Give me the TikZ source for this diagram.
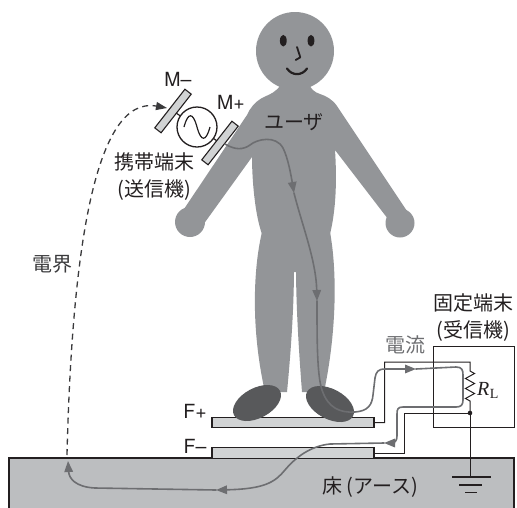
\documentclass[tikz,border=0pt]{standalone}
\usepackage{fontspec}
\setmainfont{TeX Gyre Heros}
\newfontfamily\jp{Noto Sans CJK JP}
\newfontfamily\serifit{Liberation Serif}
\usetikzlibrary{arrows.meta}
\definecolor{bodyc}{HTML}{939598}
\definecolor{footc}{HTML}{58595B}
\definecolor{floorc}{HTML}{BCBEC0}
\definecolor{platec}{HTML}{D1D3D4}
\definecolor{flow}{HTML}{6D6E71}
\definecolor{ink}{HTML}{231F20}
\definecolor{fieldc}{HTML}{3A3A3C}

\begin{document}
\begin{tikzpicture}[x=1pt,y=-1pt,
  mplate/.style={draw=ink, fill=platec, line width=1.1pt, inner sep=0pt,
                 minimum width=49pt, minimum height=8pt, rotate=52},
  fplate/.style={draw=ink, fill=platec, line width=1.2pt, inner sep=0pt,
                 minimum width=162pt, minimum height=10.5pt},
  flowline/.style={draw=flow, line width=1.6pt, line join=round, line cap=round},
  flowtip/.style={-{Triangle[length=11pt,width=8.5pt]}},
  wire/.style={draw=ink, line width=1pt},
  jlabel/.style={font=\jp\fontsize{20}{27}\selectfont, text=ink, inner sep=0pt, align=center},
  llabel/.style={font=\fontsize{19.5}{22}\selectfont, text=ink, inner sep=0pt}]
\useasboundingbox (0,0) rectangle (517,507);

% floor
\filldraw[fill=floorc, draw=ink, line width=1.2pt]
  (9,512) -- (9,458) -- (514,458) -- (514,512);

% electrodes on the floor
\node[fplate] (Fm) at (293,453) {};
\node[fplate] (Fp) at (293,422.5) {};

% the user: legs, torso with arms, hands, head
\fill[bodyc] (262,232) .. controls (253,270) and (251,330) .. (265,392)
  -- (287,392) .. controls (292,340) and (294,300) .. (294,266) -- cycle;
\fill[bodyc] (296,266) .. controls (296,300) and (298,340) .. (302,392)
  -- (324,392) .. controls (337,330) and (337,270) .. (330,232) -- cycle;
\fill[bodyc] (281,84) .. controls (277,92) and (270,94) .. (262,98)
  .. controls (255,102) and (250,108) .. (247,115) -- (182,212) -- (203,225)
  -- (252,157) .. controls (252,180) and (255,215) .. (262,234) -- (262,272)
  -- (330,272) -- (330,234) .. controls (336,210) and (337,180) .. (335,150)
  -- (388,219) -- (407,211) -- (337,106) .. controls (332,99) and (326,96) .. (320,94)
  .. controls (314,92) and (311,89) .. (309,84) -- cycle;
\fill[bodyc] (190,222) circle (15);
\fill[bodyc] (400,223) circle (14.5);
\fill[bodyc] (295,51) circle (39);

% feet
\fill[footc, rotate around={28:(257,403)}] (257,403) ellipse [x radius=26, y radius=15];
\fill[footc, rotate around={-28:(330,404)}] (330,404) ellipse [x radius=26, y radius=15];

% face
\fill[ink] (283.3,40.7) ellipse [x radius=3.4, y radius=5.8];
\fill[ink] (311,40.7) ellipse [x radius=3.4, y radius=5.8];
\draw[ink, line width=1.8pt, line cap=round, line join=round]
  (297,47) -- (300.3,57.3) -- (295.7,60);
\draw[ink, line width=2.2pt, line cap=round]
  (287,68.5) .. controls (292,76) and (302,76) .. (307,68.5);

% portable terminal (transmitter)
\coordinate (mmc) at (173,111);
\coordinate (mpc) at (220,143);
\coordinate (genc) at (197,127);
\draw[ink, line width=1.2pt] (mmc) -- (genc) -- (mpc);
\node[mplate] (Mm) at (mmc) {};
\node[mplate] (Mp) at (mpc) {};
\node[draw=ink, fill=white, circle, line width=1.3pt, minimum size=40pt, inner sep=0pt] (gen) at (genc) {};
\draw[ink, line width=1.2pt] (184,127) .. controls (188,112) and (193,112) .. (197,127)
  .. controls (201,142) and (206,142) .. (210,127);

% fixed terminal (receiver)
\node[draw=ink, fill=white, line width=1pt, minimum width=81pt, minimum height=81pt,
      inner sep=0pt] (rx) at (473.5,386.5) {};
\coordinate (rtop) at (470,362);
\coordinate (dot) at (470,413);
\coordinate (gnd) at (470,477);
\draw[wire, line join=miter] (Fp.east) -- ++(10,0) |- (rtop) -- (470,371)
  -- (474.5,373.5) -- (465.5,378.5) -- (474.5,383.5) -- (465.5,388.5)
  -- (474.5,393.5) -- (465.5,398.5) -- (470,401) -- (dot);
\draw[wire] (dot) -- (404,413) |- (Fm.east);
\draw[wire] (dot) -- (gnd);
\fill[ink] (dot) circle (2.3);
\draw[ink, line width=1.2pt] (452,477) -- (491,477);
\draw[ink, line width=1.2pt] (459,485) -- (482,485);
\draw[ink, line width=1.2pt] (465,492.5) -- (477,492.5);

% current path through the body and back through the floor
\draw[flowline, flowtip] (225,144) .. controls (235,150) and (243,150) .. (250,145)
  .. controls (257,139) and (276,135) .. (283,148) .. controls (288,158) and (291,175) .. (294,193);
\draw[flowline, flowtip] (294,193) .. controls (302,225) and (316,260) .. (317,301);
\draw[flowline, flowtip] (317,301) .. controls (317,340) and (317,375) .. (322,390)
  .. controls (328,408) and (340,413) .. (355,412) .. controls (368,411) and (372,405) .. (373,395)
  -- (375,378) .. controls (376,372) and (378,369) .. (385,369) -- (416,369);
\draw[flowline, flowtip] (416,369) -- (456,367) .. controls (462,367) and (463,370) .. (463,375)
  -- (463,400) .. controls (463,405) and (461,407) .. (456,407) -- (403,407)
  .. controls (398,407) and (397,409) .. (397,414) -- (397,436)
  .. controls (397,441) and (395,443) .. (390,443) -- (384,443);
\draw[flowline, flowtip] (384,443) -- (330,444) .. controls (310,446) and (295,458) .. (285,470)
  .. controls (275,482) and (265,489) .. (216,490);
\draw[flowline, flowtip] (216,490) -- (95,488) .. controls (75,487) and (69,478) .. (68,461);

% electric field through the air
\draw[fieldc, line width=1.3pt, dash pattern=on 6pt off 4.5pt,
      -{Triangle[length=11pt,width=8pt]}]
  (67,455) .. controls (72,250) and (95,95) .. (167,108);

% labels
\node[llabel] (lmm) at (178,79) {M–};
\node[llabel] (lmp) at (231,102) {M+};
\node[jlabel] (ltx) at (154,177) {携帯端末\\(送信機)};
\node[jlabel, text=fieldc] (lfield) at (52,264) {電界};
\node[jlabel] (luser) at (294,122) {ユーザ};
\node[jlabel] (lrx) at (473,318) {固定端末\\(受信機)};
\node[jlabel, text=flow] (lcur) at (405,345) {電流};
\node[llabel] (lfp) at (195,411) {F+};
\node[llabel] (lfm) at (195,446) {F–};
\node[jlabel] (lfloor) at (370,487) {床 (アース)};
\node[anchor=west, inner sep=0pt, text=ink] (lrl) at (477,390)
  {\fontsize{20}{22}\selectfont\serifit\itshape R\kern0.5pt\raisebox{-3pt}{\upshape\fontsize{14}{16}\selectfont L}};
\end{tikzpicture}
\end{document}
